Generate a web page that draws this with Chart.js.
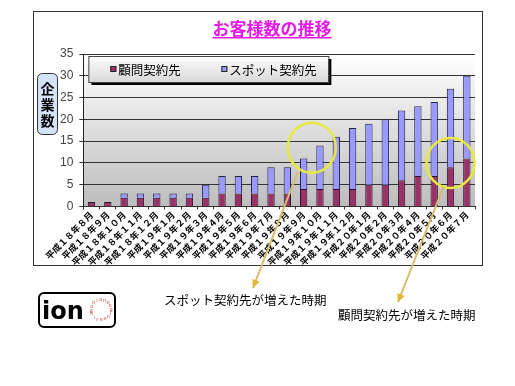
<!DOCTYPE html>
<html>
<head>
<meta charset="utf-8">
<script src="https://cdn.jsdelivr.net/npm/chart.js@4"></script>
<style>
html, body { margin: 0; padding: 0; background: #fff; }
canvas { display: block; }
</style>
</head>
<body>
<canvas id="myChart" width="515" height="386"></canvas>
<script>
// 月ラベル（平成18年8月〜平成20年7月）
const months = [
    '平成１８年８月', '平成１８年９月', '平成１８年１０月', '平成１８年１１月', '平成１８年１２月',
    '平成１９年１月', '平成１９年２月', '平成１９年３月', '平成１９年４月', '平成１９年５月',
    '平成１９年６月', '平成１９年７月', '平成１９年８月', '平成１９年９月', '平成１９年１０月',
    '平成１９年１１月', '平成１９年１２月', '平成２０年１月', '平成２０年２月', '平成２０年３月',
    '平成２０年４月', '平成２０年５月', '平成２０年６月', '平成２０年７月'
];
// 顧問契約先
const advisory = [1, 1, 2, 2, 2, 2, 2, 2, 3, 3, 3, 3, 3, 4, 4, 4, 4, 5, 5, 6, 7, 7, 9, 11];
// スポット契約先
const spot = [0, 0, 1, 1, 1, 1, 1, 3, 4, 4, 4, 6, 6, 7, 10, 12, 14, 14, 15, 16, 16, 17, 18, 19];
const seriesNames = ['顧問契約先', 'スポット契約先'];
const yMax = 35;
const yStep = 5;

const JP = '"Noto Sans CJK JP", sans-serif';

// 背景・タイトル・凡例・注記を描く
const decorPlugin = {
    id: 'decor',
    beforeDraw(chart) {
        const ctx = chart.ctx;
        const a = chart.chartArea;
        ctx.save();
        ctx.fillStyle = '#fff';
        ctx.fillRect(0, 0, chart.width, chart.height);
        // outer frame
        ctx.strokeStyle = '#333';
        ctx.lineWidth = 1;
        ctx.strokeRect(33.5, 11.5, 449, 254);
        // plot area gradient
        const g = ctx.createLinearGradient(0, a.top, 0, a.bottom);
        g.addColorStop(0, '#ffffff');
        g.addColorStop(1, '#bdbdbd');
        ctx.fillStyle = g;
        ctx.fillRect(a.left, a.top, a.right - a.left, a.bottom - a.top);
        ctx.restore();
    },
    afterDraw(chart) {
        const ctx = chart.ctx;
        const a = chart.chartArea;
        const x = chart.scales.x;
        const y = chart.scales.y;
        ctx.save();

        // title
        ctx.font = 'bold 17px ' + JP;
        ctx.fillStyle = '#e619e6';
        ctx.textAlign = 'center';
        ctx.textBaseline = 'alphabetic';
        const title = 'お客様数の推移';
        const tx = 272;
        ctx.fillText(title, tx, 35);
        const tw = ctx.measureText(title).width;
        ctx.fillRect(tx - tw / 2, 37, tw, 1.5);

        // legend box
        const lx = a.left + 5, ly = a.top + 2, lw = 240, lh = 26;
        ctx.fillStyle = '#000';
        ctx.fillRect(lx + 3, ly + 3, lw, lh);
        const lg = ctx.createLinearGradient(0, ly, 0, ly + lh);
        lg.addColorStop(0, '#ffffff');
        lg.addColorStop(1, '#d8d8d8');
        ctx.fillStyle = lg;
        ctx.fillRect(lx, ly, lw, lh);
        ctx.strokeStyle = '#444';
        ctx.strokeRect(lx + 0.5, ly + 0.5, lw, lh);
        ctx.font = '12.5px ' + JP;
        ctx.textAlign = 'left';
        ctx.textBaseline = 'middle';
        const items = [
            { text: seriesNames[0], color: '#993366', at: lx + 22 },
            { text: seriesNames[1], color: '#9999ff', at: lx + 133 }
        ];
        items.forEach(it => {
            ctx.fillStyle = it.color;
            ctx.fillRect(it.at, ly + lh / 2 - 3, 6, 6);
            ctx.strokeStyle = '#222';
            ctx.strokeRect(it.at + 0.5, ly + lh / 2 - 2.5, 5, 5);
            ctx.fillStyle = '#000';
            ctx.fillText(it.text, it.at + 8, ly + lh / 2 + 1);
        });

        // y axis title box
        ctx.beginPath();
        ctx.roundRect(37.5, 73.5, 20, 61, 5);
        ctx.fillStyle = '#d4e2fa';
        ctx.fill();
        ctx.strokeStyle = '#333';
        ctx.stroke();
        ctx.fillStyle = '#000';
        ctx.font = 'bold 14px ' + JP;
        ctx.textAlign = 'center';
        ['企', '業', '数'].forEach((c, i) => ctx.fillText(c, 47.5, 89 + i * 16));

        // highlight circles, anchored to scales
        const c1 = { x: (x.getPixelForValue(13) + x.getPixelForValue(14)) / 2, y: y.getPixelForValue(13.5) };
        const c2 = { x: x.getPixelForValue(22), y: y.getPixelForValue(10) };
        ctx.strokeStyle = '#e8e840';
        ctx.lineWidth = 2.5;
        [c1, c2].forEach(c => {
            ctx.beginPath();
            ctx.ellipse(c.x, c.y, 24, 25, 0, 0, Math.PI * 2);
            ctx.stroke();
        });

        // arrows
        function arrow(x1, y1, x2, y2) {
            ctx.strokeStyle = '#d8bc6a';
            ctx.lineWidth = 2;
            ctx.beginPath();
            ctx.moveTo(x1, y1);
            ctx.lineTo(x2, y2);
            ctx.stroke();
            const ang = Math.atan2(y2 - y1, x2 - x1);
            ctx.fillStyle = '#e0b830';
            ctx.beginPath();
            ctx.moveTo(x2, y2);
            ctx.lineTo(x2 - 9 * Math.cos(ang - 0.45), y2 - 9 * Math.sin(ang - 0.45));
            ctx.lineTo(x2 - 9 * Math.cos(ang + 0.45), y2 - 9 * Math.sin(ang + 0.45));
            ctx.closePath();
            ctx.fill();
        }
        arrow(c1.x - 14, c1.y + 24, 253, 288);
        arrow(c2.x - 7, c2.y + 24, 398, 302);

        // notes
        ctx.fillStyle = '#000';
        ctx.font = '12.5px ' + JP;
        ctx.textAlign = 'left';
        ctx.textBaseline = 'middle';
        ctx.fillText('スポット契約先が増えた時期', 164, 300);
        ctx.fillText('顧問契約先が増えた時期', 338, 315);

        // logo
        ctx.beginPath();
        ctx.roundRect(39, 293, 76, 34, 5);
        ctx.fillStyle = '#fff';
        ctx.fill();
        ctx.strokeStyle = '#000';
        ctx.lineWidth = 2;
        ctx.stroke();
        ctx.fillStyle = '#000';
        ctx.font = 'bold 24px "DejaVu Sans", sans-serif';
        ctx.textAlign = 'left';
        ctx.textBaseline = 'alphabetic';
        ctx.fillText('ion', 42, 319);
        const ring = 'onionengineering';
        ctx.fillStyle = '#cc3333';
        ctx.font = '5px "DejaVu Sans", sans-serif';
        ctx.textAlign = 'center';
        ctx.textBaseline = 'middle';
        for (let i = 0; i < ring.length; i++) {
            const t = -Math.PI / 2 - 1.2 + (i / ring.length) * Math.PI * 2;
            ctx.fillText(ring[i], 101 + 10 * Math.cos(t), 310 + 10 * Math.sin(t));
        }
        ctx.restore();
    }
};

const ctx = document.getElementById('myChart').getContext('2d');
window.myChart = new Chart(ctx, {
    type: 'bar',
    data: {
        labels: months,
        datasets: [{
            label: seriesNames[0],
            data: advisory,
            backgroundColor: '#993366',
            borderColor: '#2a1030',
            borderWidth: 1,
            barPercentage: 0.45,
            categoryPercentage: 1
        }, {
            label: seriesNames[1],
            data: spot,
            backgroundColor: '#9999ff',
            borderColor: '#22224a',
            borderWidth: 1,
            barPercentage: 0.45,
            categoryPercentage: 1
        }]
    },
    options: {
        responsive: false,
        animation: false,
        layout: { padding: { left: 54, right: 40, top: 54, bottom: 118 } },
        plugins: {
            legend: { display: false },
            title: { display: false },
            tooltip: { enabled: false }
        },
        scales: {
            x: {
                stacked: true,
                grid: { display: true, drawOnChartArea: false, offset: true, tickLength: 3, color: '#333' },
                border: { color: '#333' },
                ticks: {
                    autoSkip: false,
                    minRotation: 45,
                    maxRotation: 45,
                    color: '#000',
                    padding: 0,
                    font: { family: JP, size: 9, weight: 'bold' }
                }
            },
            y: {
                stacked: true,
                min: 0,
                max: yMax,
                grid: { color: '#333', tickLength: 4 },
                border: { color: '#222' },
                ticks: {
                    stepSize: yStep,
                    color: '#444',
                    padding: 6,
                    font: { family: '"Liberation Sans", Arial, sans-serif', size: 12 }
                }
            }
        }
    },
    plugins: [decorPlugin]
});
</script>
</body>
</html>
